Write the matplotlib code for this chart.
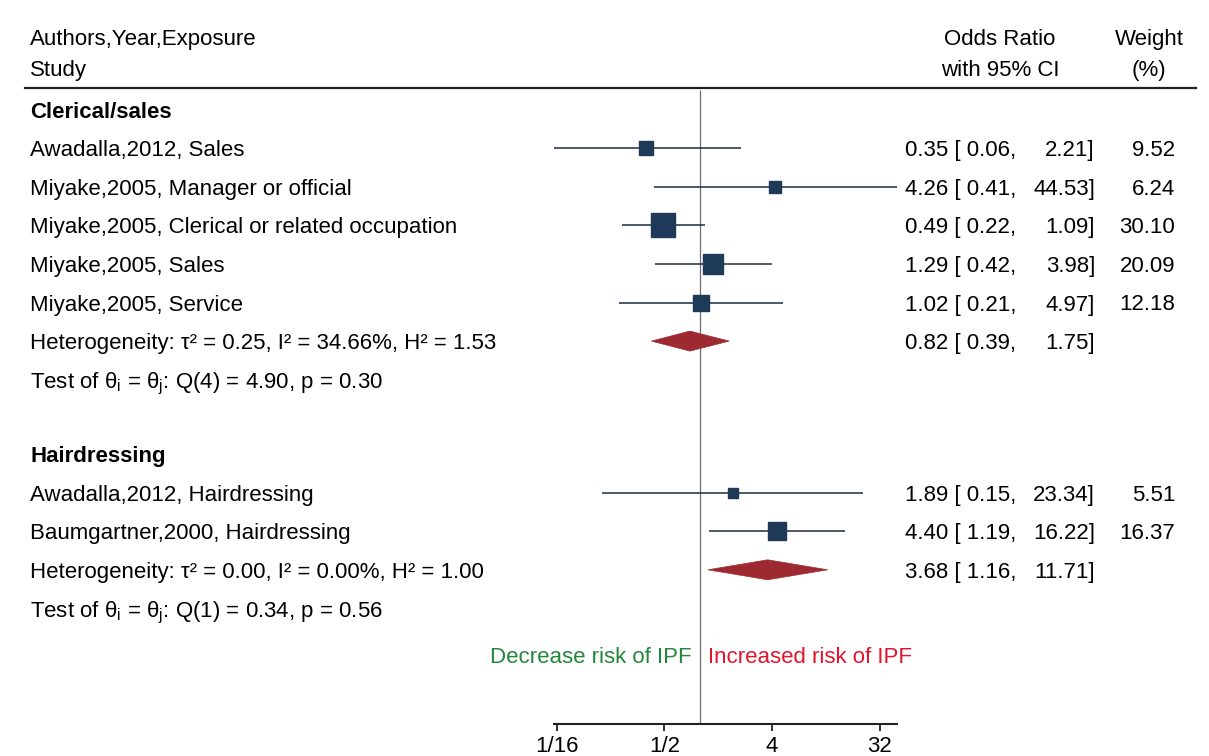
import numpy as np
import matplotlib
matplotlib.use("Agg")
import matplotlib.pyplot as plt
from matplotlib import transforms
from matplotlib.patches import Polygon

plt.rcParams['font.family'] = ['Liberation Sans', 'DejaVu Sans']
plt.rcParams['mathtext.fontset'] = 'custom'
plt.rcParams['mathtext.rm'] = 'Liberation Sans'
plt.rcParams['mathtext.it'] = 'Liberation Sans'
plt.rcParams['mathtext.bf'] = 'Liberation Sans:bold'

# ---------------- data ----------------
group_names = ["Clerical/sales", "Hairdressing"]

g1_labels = ["Awadalla,2012, Sales",
             "Miyake,2005, Manager or official",
             "Miyake,2005, Clerical or related occupation",
             "Miyake,2005, Sales",
             "Miyake,2005, Service"]
g1_or = [0.35, 4.26, 0.49, 1.29, 1.02]
g1_lo = [0.06, 0.41, 0.22, 0.42, 0.21]
g1_hi = [2.21, 44.53, 1.09, 3.98, 4.97]
g1_w = [9.52, 6.24, 30.10, 20.09, 12.18]
g1_pooled = [0.82, 0.39, 1.75]
g1_het = "Heterogeneity: τ² = 0.25, I² = 34.66%, H² = 1.53"
g1_test = r"Test of θ$_\mathrm{i}$ = θ$_\mathrm{j}$: Q(4) = 4.90, p = 0.30"

g2_labels = ["Awadalla,2012, Hairdressing",
             "Baumgartner,2000, Hairdressing"]
g2_or = [1.89, 4.40]
g2_lo = [0.15, 1.19]
g2_hi = [23.34, 16.22]
g2_w = [5.51, 16.37]
g2_pooled = [3.68, 1.16, 11.71]
g2_het = "Heterogeneity: τ² = 0.00, I² = 0.00%, H² = 1.00"
g2_test = r"Test of θ$_\mathrm{i}$ = θ$_\mathrm{j}$: Q(1) = 0.34, p = 0.56"

tick_vals = [1/16, 1/2, 4, 32]
tick_labels = ["1/16", "1/2", "4", "32"]

# ---------------- layout ----------------
W, H = 1209, 756
DPI = 100
fig = plt.figure(figsize=(W / DPI, H / DPI), dpi=DPI)
axis_y_px = 724
b = (H - axis_y_px) / H
ax = fig.add_axes([0, b, 1, 1 - b])
ax.set_xscale('log', base=2)
x_one_px = 700.2
px_per_log2 = 35.9
ax.set_xlim(2 ** (-x_one_px / px_per_log2), 2 ** ((W - x_one_px) / px_per_log2))
ax.set_ylim(axis_y_px, 0)
for s in ['top', 'left', 'right']:
    ax.spines[s].set_visible(False)
ax.set_yticks([])
ax.tick_params(axis='x', which='minor', bottom=False)

FS = 16
NAVY = '#1e3a58'
LINE = '#1c2b40'
MAROON = '#9e2a31'
VA = 'center_baseline'
tr = transforms.blended_transform_factory(fig.transFigure, ax.transData)

def fx(px):
    return px / W

# header
ax.text(fx(30), 37, "Authors,Year,Exposure", transform=tr, fontsize=FS, va=VA, ha='left')
ax.text(fx(30), 68, "Study", transform=tr, fontsize=FS, va=VA, ha='left')
ax.text(fx(1000), 37, "Odds Ratio", transform=tr, fontsize=FS, va=VA, ha='center')
ax.text(fx(1000), 68, "with 95% CI", transform=tr, fontsize=FS, va=VA, ha='center')
ax.text(fx(1149), 37, "Weight", transform=tr, fontsize=FS, va=VA, ha='center')
ax.text(fx(1149), 68, "(%)", transform=tr, fontsize=FS, va=VA, ha='center')
ax.plot([fx(25), fx(1196)], [88, 88], transform=tr, color='#222222', lw=1.6, clip_on=False)

step = 38.6
sq_scale = 4.5 * 72 / DPI  # marker size in points per sqrt(weight)


def draw_group(y0, name, labels, ors, los, his, ws, pooled, het, test):
    ax.text(fx(30), y0, name, transform=tr, fontsize=FS, fontweight='bold', va=VA, ha='left')
    ys = [y0 + step * (i + 1) for i in range(len(labels))]
    for y, lab, o, lo, hi, w in zip(ys, labels, ors, los, his, ws):
        ax.text(fx(30), y, lab, transform=tr, fontsize=FS, va=VA, ha='left')
        ax.hlines(y, lo, hi, color=LINE, lw=1.1, zorder=3)
        ax.plot([o], [y], marker='s', ms=sq_scale * np.sqrt(w), color=NAVY, mec=NAVY, zorder=4)
        ax.text(fx(905), y, f"{o:.2f} [ {lo:.2f},", transform=tr, fontsize=FS, va=VA, ha='left')
        ax.text(fx(1095), y, f"{hi:.2f}]", transform=tr, fontsize=FS, va=VA, ha='right')
        ax.text(fx(1175), y, f"{w:.2f}", transform=tr, fontsize=FS, va=VA, ha='right')
    yh = y0 + step * (len(labels) + 1)
    est, lo, hi = pooled
    dh = 10
    ax.add_patch(Polygon([(lo, yh), (est, yh - dh), (hi, yh), (est, yh + dh)],
                         closed=True, facecolor=MAROON, edgecolor=MAROON, lw=0.5, zorder=4))
    ax.text(fx(30), yh, het, transform=tr, fontsize=FS, va=VA, ha='left')
    ax.text(fx(905), yh, f"{est:.2f} [ {lo:.2f},", transform=tr, fontsize=FS, va=VA, ha='left')
    ax.text(fx(1095), yh, f"{hi:.2f}]", transform=tr, fontsize=FS, va=VA, ha='right')
    ax.text(fx(30), yh + step, test, transform=tr, fontsize=FS, va=VA, ha='left')


draw_group(109.5, group_names[0], g1_labels, g1_or, g1_lo, g1_hi, g1_w, g1_pooled, g1_het, g1_test)
draw_group(454.0, group_names[1], g2_labels, g2_or, g2_lo, g2_hi, g2_w, g2_pooled, g2_het, g2_test)

# reference line at OR = 1
ax.vlines(1, 90, axis_y_px, color='#6e6e6e', lw=0.9, zorder=2)

# direction labels
ax.text(fx(692), 655, "Decrease risk of IPF", transform=tr, fontsize=FS, color='#23873a', va=VA, ha='right')
ax.text(fx(708), 655, "Increased risk of IPF", transform=tr, fontsize=FS, color='#e3152d', va=VA, ha='left')

# x axis
all_lo = min(g1_lo + g2_lo)
all_hi = max(g1_hi + g2_hi)
ax.spines['bottom'].set_bounds(all_lo, all_hi)
ax.spines['bottom'].set_linewidth(1.5)
ax.spines['bottom'].set_color('#222222')
ax.set_xticks(tick_vals)
ax.set_xticklabels(tick_labels, fontsize=FS)
ax.tick_params(axis='x', which='major', length=5, width=1.3, pad=4, color='#222222')

fig.savefig("out.png", dpi=DPI, facecolor='white')
